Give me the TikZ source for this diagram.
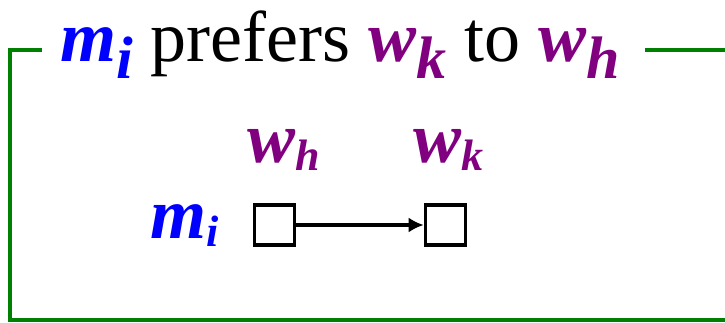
\documentclass[tikz,border=0pt]{standalone}
\usepackage{fontspec}
\setmainfont{Liberation Serif}
\usetikzlibrary{arrows.meta}

\definecolor{mblue}{RGB}{0,0,255}
\definecolor{wpurple}{RGB}{128,0,128}
\definecolor{framegreen}{RGB}{0,128,0}

% bold italic letter with a subscript: colour, letter, subscript, size, drop
\newcommand{\bsym}[5]{\textcolor{#1}{\textbf{\textit{#2\raisebox{-#5}{\fontsize{#4}{#4}\selectfont #3}}}}}

\tikzset{
    big/.style = {font=\fontsize{72}{80}\selectfont, inner sep=0pt},
    slot/.style = {draw, line width=3.6pt, minimum size=40pt, inner sep=0pt},
    frame/.style = {framegreen, line width=4.5pt}
}

\begin{document}
\begin{tikzpicture}[x=1pt, y=-1pt]
            \useasboundingbox (0, 0) rectangle (725, 323);

            \node[big, anchor=base west] (title) at (60, 62)
                {\bsym{mblue}{m}{i}{60}{17pt} prefers \bsym{wpurple}{w}{k}{60}{17pt} to \bsym{wpurple}{w}{h}{60}{17pt}};

            \coordinate (tl) at (10, 50);
            \coordinate (br) at (725, 320);
            \draw[frame] (42, 50) -- (tl) -- (tl |- br) -- (br);
            \draw[frame] (645, 50) -- (tl -| br);

            \node[slot] (bh) at (274.5, 225) {};
            \node[slot] (bk) at (445.5, 225) {};
            \node[big, anchor=base west] (wh) at (247, 163) {\bsym{wpurple}{w}{h}{44}{8pt}};
            \node[big, anchor=base west] (wk) at (413, 163) {\bsym{wpurple}{w}{k}{44}{8pt}};
            \node[big, anchor=base east] (mi) at (219, 238) {\bsym{mblue}{m}{i}{44}{8pt}};

            \draw[line width=3.2pt, -{Latex[length=15pt, width=15pt]}] (bh) -- (bk);
        \end{tikzpicture}
\end{document}
